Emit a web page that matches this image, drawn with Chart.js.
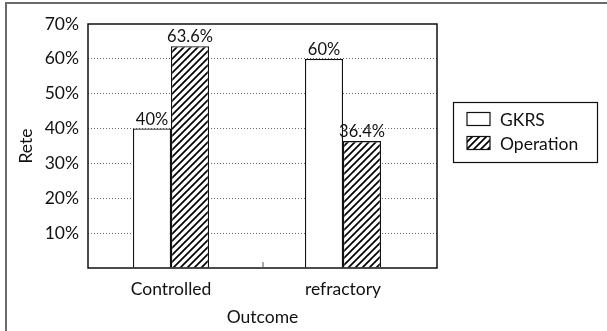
<!DOCTYPE html>
<html>
<head>
<meta charset="utf-8">
<script src="https://cdn.jsdelivr.net/npm/chart.js@4.4.1/dist/chart.umd.min.js"></script>
<style>
  html, body { margin: 0; padding: 0; background: #fff; }
  #wrap { width: 607px; height: 331px; position: relative; }
</style>
</head>
<body>
<div id="wrap"><canvas id="c" width="607" height="331"></canvas></div>
<script>
// Outcome rates by treatment group
const categories = ['Controlled', 'refractory'];
const seriesNames = ['GKRS', 'Operation'];
const gkrsRates = [40, 60];
const operationRates = [63.6, 36.4];
const yTicks = [0, 10, 20, 30, 40, 50, 60, 70];

const FONT = 'Lato, "Noto Sans", sans-serif';

// diagonal "/" hatch fill
function makeHatch() {
  const s = 7;
  const c = document.createElement('canvas');
  c.width = s; c.height = s;
  const g = c.getContext('2d');
  g.fillStyle = '#fff';
  g.fillRect(0, 0, s, s);
  g.strokeStyle = '#000';
  g.lineWidth = 1.7;
  g.beginPath();
  g.moveTo(-1, s + 1); g.lineTo(s + 1, -1);
  g.moveTo(-2, 2); g.lineTo(2, -2);
  g.moveTo(s - 2, s + 2); g.lineTo(s + 2, s - 2);
  g.stroke();
  return g.createPattern(c, 'repeat');
}
const hatch = makeHatch();

const toPoints = arr => arr.map((v, i) => ({ x: i, y: v }));

// page frame, plot box, centre tick
const framePlugin = {
  id: 'frame',
  beforeDraw(chart) {
    const ctx = chart.ctx;
    ctx.save();
    ctx.strokeStyle = '#6a6a6a';
    ctx.lineWidth = 2;
    ctx.strokeRect(6, 3, 700, 400);
    ctx.restore();
  },
  afterDatasetsDraw(chart) {
    const { ctx, chartArea: a } = chart;
    ctx.save();
    ctx.strokeStyle = '#111';
    ctx.lineWidth = 1.5;
    ctx.strokeRect(a.left, a.top, a.right - a.left, a.bottom - a.top);
    const mid = (a.left + a.right) / 2;
    ctx.strokeStyle = '#555';
    ctx.lineWidth = 1;
    ctx.beginPath();
    ctx.moveTo(mid + 0.5, a.bottom);
    ctx.lineTo(mid + 0.5, a.bottom - 6);
    ctx.stroke();
    ctx.restore();
  }
};

// value labels above the bars
const valueLabels = {
  id: 'valueLabels',
  afterDatasetsDraw(chart) {
    const ctx = chart.ctx;
    ctx.save();
    ctx.font = '16.5px ' + FONT;
    ctx.fillStyle = '#111';
    ctx.textAlign = 'center';
    ctx.textBaseline = 'bottom';
    chart.data.datasets.forEach((ds, di) => {
      chart.getDatasetMeta(di).data.forEach((bar, i) => {
        ctx.fillText(ds.data[i].y + '%', bar.x, bar.y - 1);
      });
    });
    ctx.restore();
  }
};

// boxed legend right of the plot
const boxLegend = {
  id: 'boxLegend',
  afterDraw(chart) {
    const { ctx, chartArea: a } = chart;
    const x0 = a.right + 16, y0 = 102, w = 144, h = 60;
    ctx.save();
    ctx.strokeStyle = '#111';
    ctx.lineWidth = 1.2;
    ctx.strokeRect(x0 + 0.5, y0 + 0.5, w, h);
    ctx.font = '17.5px ' + FONT;
    ctx.textBaseline = 'middle';
    ctx.textAlign = 'left';
    chart.data.datasets.forEach((ds, i) => {
      const cy = y0 + 17 + i * 24;
      ctx.fillStyle = ds.backgroundColor;
      ctx.fillRect(x0 + 14, cy - 6.5, 23, 13);
      ctx.strokeStyle = '#111';
      ctx.lineWidth = 1.2;
      ctx.strokeRect(x0 + 14, cy - 6.5, 23, 13);
      ctx.fillStyle = '#111';
      ctx.fillText(ds.label, x0 + 47, cy + 1);
    });
    ctx.restore();
  }
};

new Chart(document.getElementById('c'), {
  type: 'bar',
  data: {
    datasets: [
      { label: seriesNames[0], data: toPoints(gkrsRates), backgroundColor: '#ffffff',
        borderColor: '#111', borderWidth: 1.3 },
      { label: seriesNames[1], data: toPoints(operationRates), backgroundColor: hatch,
        borderColor: '#111', borderWidth: 1.3 }
    ]
  },
  options: {
    responsive: false,
    animation: false,
    devicePixelRatio: 1,
    categoryPercentage: 0.442,
    barPercentage: 1,
    layout: { padding: { left: 0, top: 24, right: 170, bottom: 0 } },
    plugins: {
      legend: { display: false },
      tooltip: { enabled: false }
    },
    scales: {
      x: {
        type: 'linear',
        offset: false,
        min: -0.4826,
        max: 1.5465,
        afterBuildTicks(scale) {
          scale.ticks = categories.map((_, i) => ({ value: i }));
        },
        afterFit(scale) { scale.height = 63; },
        ticks: {
          callback: v => categories[v] ?? '',
          color: '#111',
          font: { family: FONT, size: 17.5 },
          padding: 11,
          maxRotation: 0,
          autoSkip: false
        },
        grid: { display: false, drawTicks: false, offset: false },
        border: { display: false },
        title: {
          display: true,
          text: 'Outcome',
          color: '#111',
          font: { family: FONT, size: 17.5 },
          padding: { top: 0, bottom: 3 }
        }
      },
      y: {
        min: 0,
        max: 70,
        afterBuildTicks(scale) {
          scale.ticks = yTicks.map(v => ({ value: v }));
        },
        afterFit(scale) { scale.width = 88; },
        ticks: {
          callback: v => (v === 0 ? '' : v + '%'),
          color: '#111',
          font: { family: FONT, size: 17.5 },
          padding: 9
        },
        grid: {
          drawTicks: false,
          lineWidth: 1,
          color: ctx => (ctx.tick && (ctx.tick.value === 0 || ctx.tick.value === 70)) ? 'rgba(0,0,0,0)' : '#666'
        },
        border: { display: false, dash: [1, 2] },
        title: {
          display: true,
          text: 'Rete',
          color: '#111',
          font: { family: FONT, size: 17.5 },
          padding: { top: 16, bottom: 0 }
        }
      }
    }
  },
  plugins: [framePlugin, valueLabels, boxLegend]
});
</script>
</body>
</html>
